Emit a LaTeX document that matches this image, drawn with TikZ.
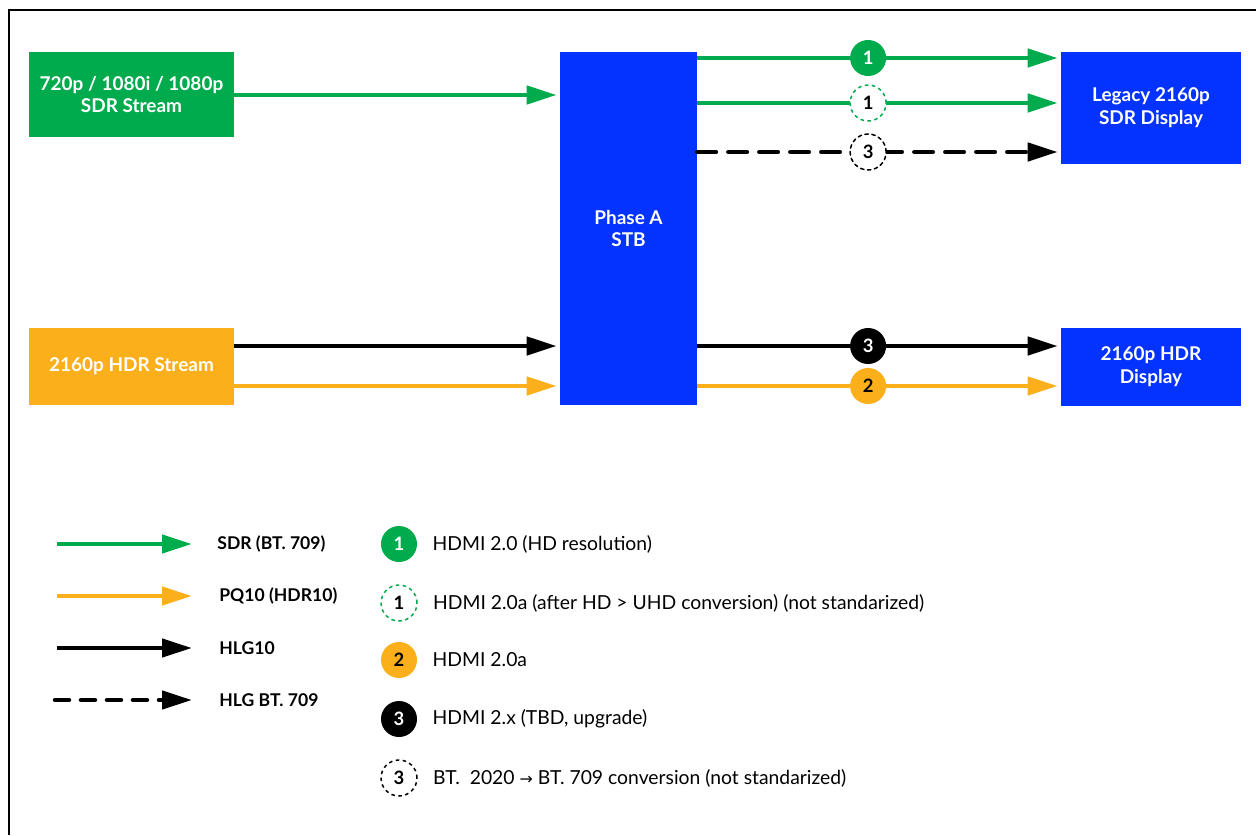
\documentclass[tikz,border=0pt]{standalone}
\usepackage{fontspec}
\setmainfont{Lato}
\usepackage{tikz}
\usepackage{xcolor}
\usetikzlibrary{arrows.meta, positioning}
\definecolor{sdrgreen}{HTML}{00AB4E}
\definecolor{pqorange}{HTML}{FBAF1B}
\definecolor{stbblue}{HTML}{0433FF}

\begin{document}
\begin{tikzpicture}[x=0.02cm, y=-0.02cm,
  box/.style={rectangle, inner sep=0pt, text=white, align=center, font=\bfseries\fontsize{10.8}{13}\selectfont},
  flow/.style={line width=0.09cm, -{Triangle[length=0.6cm, width=0.36cm]}, shorten >=0.06cm},
  sdr/.style={flow, sdrgreen},
  pq/.style={flow, pqorange},
  hlg/.style={flow, black},
  hlgbt/.style={flow, black, dash pattern=on 0.37cm off 0.25cm, line cap=round},
  hdmi/.style={circle, minimum size=0.72cm, inner sep=0pt, solid, font=\bfseries\fontsize{10.5}{12}\selectfont},
  hdmione/.style={hdmi, fill=sdrgreen, text=white},
  hdmioneup/.style={hdmi, fill=white, draw=sdrgreen, text=black, line width=0.03cm, dash pattern=on 0.07cm off 0.07cm},
  hdmitwo/.style={hdmi, fill=pqorange, text=black},
  hdmithree/.style={hdmi, fill=black, text=white},
  hdmithreeconv/.style={hdmi, fill=white, draw=black, text=black, line width=0.03cm, dash pattern=on 0.07cm off 0.07cm},
  legtext/.style={inner sep=0pt, anchor=west, text=black, font=\fontsize{11}{12}\selectfont},
  sigtext/.style={legtext, font=\bfseries\fontsize{10}{12}\selectfont},
]
\useasboundingbox (0,0) rectangle (1256,835);
\draw[line width=0.04cm] (9,835) -- (9,10) -- (1256,10); %frame

% sources, box and displays
\node[box, fill=sdrgreen, minimum width=4.1cm, minimum height=1.7cm] (sdrin) at (131.5,94.5) {720p / 1080i / 1080p\\SDR Stream};
\node[box, fill=pqorange, minimum width=4.1cm, minimum height=1.54cm] (hdrin) at (131.5,366.5) {2160p HDR Stream};
\node[box, fill=stbblue, minimum width=2.74cm, minimum height=7.06cm] (stb) at (628.5,228.5) {Phase A\\STB};
\node[box, fill=stbblue, minimum width=3.6cm, minimum height=2.24cm] (legacy) at (1151,108) {Legacy 2160p\\SDR Display};
\node[box, fill=stbblue, minimum width=3.6cm, minimum height=1.56cm] (hdrdisp) at (1151,367) {2160p HDR\\Display};

% into the STB
\draw[sdr] (sdrin.east |- 0,95) -- (stb.west |- 0,95);
\draw[hlg] (hdrin.east |- 0,346) -- (stb.west |- 0,346);
\draw[pq] (hdrin.east |- 0,386) -- (stb.west |- 0,386);
% out of the STB
\draw[sdr] (stb.east |- 0,58) -- node[hdmione, pos=0.47] (o1) {1} (legacy.west |- 0,58);
\draw[sdr] (stb.east |- 0,103) -- node[hdmioneup, pos=0.47] (o1a) {1} (legacy.west |- 0,103);
\draw[hlgbt] (stb.east |- 0,152) -- node[hdmithreeconv, pos=0.47] (o3a) {3} (legacy.west |- 0,152);
\draw[hlg] (stb.east |- 0,346) -- node[hdmithree, pos=0.47] (o3) {3} (hdrdisp.west |- 0,346);
\draw[pq] (stb.east |- 0,386) -- node[hdmitwo, pos=0.47] (o2) {2} (hdrdisp.west |- 0,386);

% legend, signals
\coordinate (ksdr) at (57,544);
\coordinate (kpq) at (57,596);
\coordinate (khlg) at (57,648);
\coordinate (khlgbt) at (55,700);
\node[sigtext] (tsdr) at (217,544) {SDR (BT. 709)};
\node[sigtext] (tpq) at (219,596) {PQ10 (HDR10)};
\node[sigtext] (thlg) at (219,648) {HLG10};
\node[sigtext] (thlgbt) at (219,700) {HLG BT. 709};
\draw[sdr, shorten >=0.5cm] (ksdr) -- (tsdr.west);
\draw[pq, shorten >=0.54cm] (kpq) -- (tpq.west);
\draw[hlg, shorten >=0.54cm] (khlg) -- (thlg.west);
\draw[hlgbt, dash pattern=on 0.28cm off 0.24cm, shorten >=0.54cm] (khlgbt) -- (thlgbt.west);

% legend, links
\node[hdmione] (k1) at (399,544) {1};
\node[hdmioneup] (k1a) at (399,603) {1};
\node[hdmitwo] (k2) at (399,660) {2};
\node[hdmithree] (k3) at (399,719) {3};
\node[hdmithreeconv] (k3a) at (399,778) {3};
\node[legtext, right=0.3cm of k1] (t1) {HDMI 2.0 (HD resolution)};
\node[legtext, right=0.3cm of k1a] (t1a) {HDMI 2.0a (after HD > UHD conversion) (not standarized)};
\node[legtext, right=0.3cm of k2] (t2) {HDMI 2.0a};
\node[legtext, right=0.3cm of k3] (t3) {HDMI 2.x (TBD, upgrade)};
\node[legtext, right=0.3cm of k3a] (t3a) {BT.\ \ 2020 {\fontspec{DejaVu Sans}\small →} BT. 709 conversion (not standarized)};
\end{tikzpicture}
\end{document}
